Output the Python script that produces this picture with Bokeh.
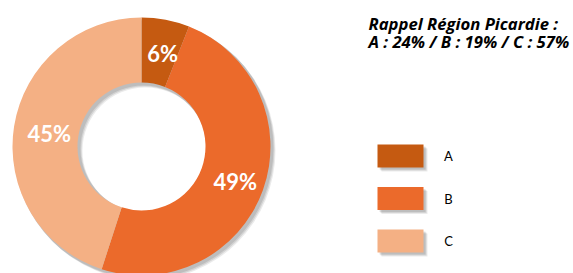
import numpy as np
from bokeh.plotting import figure
from bokeh.models import Range1d, ColumnDataSource
from bokeh.core.properties import value
from bokeh.embed import file_html
from bokeh.resources import INLINE

categories = ["A", "B", "C"]
values = [6, 49, 45]
labels = ["6%", "49%", "45%"]
colors = ["#C55A11", "#EB6A2B", "#F4B084"]
title_lines = ["Rappel Région Picardie :", "A : 24% / B : 19% / C : 57%"]

W, H = 573, 273
p = figure(width=W, height=H, x_range=Range1d(0, W), y_range=Range1d(-H, 0),
           output_backend="svg", toolbar_location=None, min_border=0)
p.axis.visible = False
p.grid.visible = False
p.outline_line_color = None

cx, cy = 141, -146
r_out, r_in = 129, 64
frac = np.array(values, dtype=float) / sum(values)
ends = np.cumsum(frac)
starts = ends - frac
start_ang = np.pi / 2 - 2 * np.pi * starts
end_ang = np.pi / 2 - 2 * np.pi * ends
mid_ang = (start_ang + end_ang) / 2
r_mid = (r_out + r_in) / 2

# soft shadow
for off, a in [(4, 0.08), (3, 0.10), (2, 0.10)]:
    p.annulus(x=cx + off, y=cy - off, inner_radius=r_in - 1, outer_radius=r_out + 1,
              fill_color="black", fill_alpha=a, line_color=None)

src = ColumnDataSource(dict(cat=categories, start=start_ang, end=end_ang, color=colors,
                            lx=cx + r_mid * np.cos(mid_ang) + 3, ly=cy + r_mid * np.sin(mid_ang) - 2,
                            label=labels))
p.annular_wedge(x=cx, y=cy, inner_radius=r_in, outer_radius=r_out, start_angle="start",
                end_angle="end", direction="clock", fill_color="color", line_color=None, source=src)
p.text(x="lx", y="ly", text="label", source=src, text_font=value("Lato"), text_font_style="bold",
       text_font_size="22px", text_color="white", text_align="center", text_baseline="middle")

# title
p.text(x=[368, 368], y=[-23, -41], text=title_lines, text_font=value("Open Sans"),
       text_font_style="bold italic", text_font_size="16.7px", text_color="black",
       text_align="left", text_baseline="alphabetic")

# legend
ly = -(155.5 + 42.5 * np.arange(len(categories)))
for off, a in [(4, 0.08), (3, 0.10), (2, 0.10)]:
    p.rect(x=400 + off, y=ly - off, width=46, height=23, fill_color="black", fill_alpha=a, line_color=None)
p.rect(x=400, y=ly, width=46, height=23, fill_color=colors, line_color=None)
p.text(x=[448] * len(categories), y=ly, text=categories, text_font=value("Lato"),
       text_font_size="13px", text_color="black", text_align="center", text_baseline="middle")

open("out.html", "w").write(file_html(p, INLINE))
